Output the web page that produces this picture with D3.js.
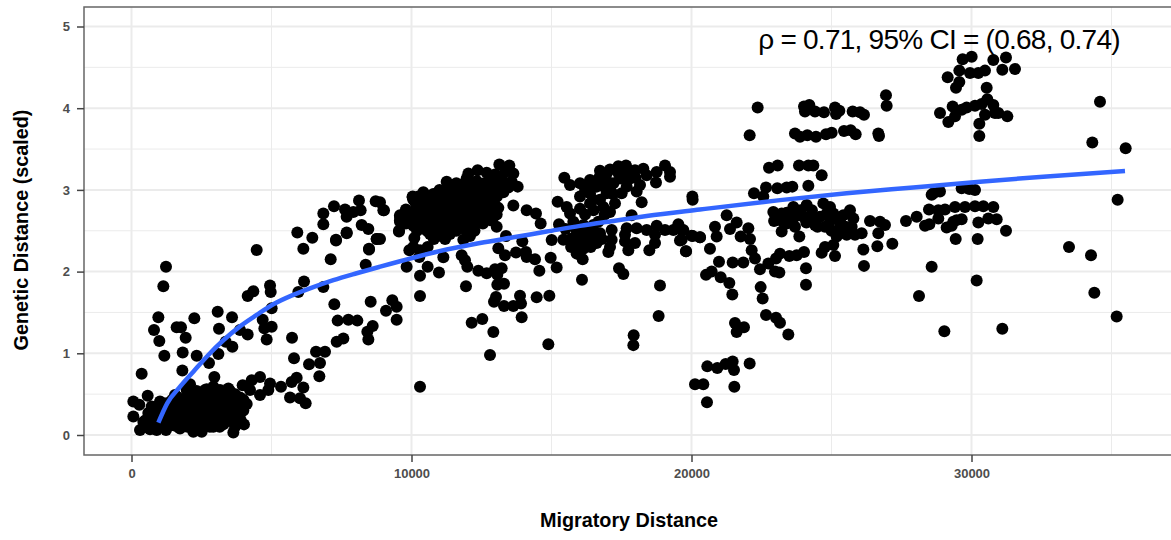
<!DOCTYPE html>
<html>
<head>
<meta charset="utf-8">
<script src="https://cdn.jsdelivr.net/npm/d3@7/dist/d3.min.js"></script>
<style>
html,body{margin:0;padding:0;background:#fff;overflow:hidden}
svg{display:block;font-family:"Liberation Sans",Arial,sans-serif}
</style>
</head>
<body>
<script>
const xTicks=[0,10000,20000,30000];
const xMinor=[5000,15000,25000,35000];
const yTicks=[0,1,2,3,4,5];
const yMinor=[0.5,1.5,2.5,3.5,4.5];
const xLabel="Migratory Distance";
const yLabel="Genetic Distance (scaled)";
const annotation="\u03c1 = 0.71, 95% CI = (0.68, 0.74)";

const fitLine=[[959,.15],[1280,.39],[1733,.59],[2209,.775],[2744,.98],[3280,1.16],[3875,1.33],[4471,1.47],[5066,1.60],[5780,1.715],[6494,1.81],[7209,1.895],[8042,1.98],[8875,2.06],[10065,2.17],[11256,2.27],[12447,2.35],[13637,2.42],[14828,2.49],[16018,2.56],[17209,2.62],[18400,2.68],[20300,2.76],[23160,2.875],[25540,2.96],[27920,3.03],[30300,3.10],[32685,3.165],[35482,3.23]];

const farCluster=[[30006,4.63],[29684,4.60],[30780,4.59],[31232,4.62],[31101,4.47],[31553,4.48],[29149,4.38],[29565,4.46],[29946,4.43],[30244,4.43],[30482,4.46],[29446,4.25],[29565,4.32],[30542,4.25],[30565,4.11],[29327,4.02],[29649,3.98],[29827,4.01],[30125,4.03],[30363,4.05],[30780,4.04],[30839,3.94],[30482,3.92],[28875,3.94],[29173,3.83],[29411,3.90],[30280,3.81],[31280,3.90],[30280,3.66],[30958,3.94],[34589,4.08],[34315,3.58],[35506,3.51],[35220,2.88],[33482,2.30],[34268,2.20],[34387,1.74],[35185,1.45],[31101,1.30],[29030,1.27],[28125,1.70],[30185,1.89],[28577,2.06],[31232,2.50],[30220,2.40],[29435,2.40],[30900,2.64],[30600,2.65],[30244,2.60],[30780,2.79],[30422,2.80],[30125,2.80],[29768,2.79],[29411,2.79],[29054,2.76],[28815,2.75],[28482,2.76],[28815,2.65],[28042,2.67],[27660,2.62],[28339,2.56],[28494,2.58],[29113,2.54],[29292,2.56],[29470,2.63],[29649,2.64],[29351,2.61],[28875,2.98],[28637,2.96],[28577,2.94],[29649,3.02],[30125,3.00],[29922,3.01]];

const midRight=[[26946,4.16],[26970,4.03],[26672,3.69],[26696,3.66],[24018,4.02],[24208,4.04],[24053,3.96],[24411,3.96],[24732,3.95],[25125,4.01],[25280,3.97],[25160,3.93],[25756,3.96],[26018,3.95],[26160,3.92],[22363,4.01],[22077,3.67],[23696,3.69],[23875,3.65],[24137,3.67],[24446,3.65],[24803,3.68],[25006,3.70],[25446,3.72],[25684,3.73],[25863,3.68],[22768,3.27],[23077,3.30],[23839,3.30],[24173,3.30],[24351,3.30],[24649,3.18],[24173,3.05],[22661,3.03],[23065,3.02],[23399,3.03],[23601,3.04],[22232,2.96],[22565,2.92],[20030,2.92],[20041,2.88],[22922,2.73],[23220,2.71],[23637,2.79],[24113,2.815],[24708,2.835],[24946,2.79],[25660,2.75],[25422,2.69],[25780,2.65],[23160,2.63],[23399,2.59],[23696,2.55],[23994,2.67],[24292,2.65],[24589,2.67],[24827,2.71],[25065,2.71],[24411,2.57],[24768,2.55],[23815,2.69],[23577,2.67],[23220,2.49],[23851,2.43],[25303,2.47],[25184,2.43],[25542,2.45],[25720,2.55],[26077,2.47],[25839,2.45],[26375,2.62],[26732,2.61],[26910,2.57],[26672,2.47],[26637,2.31],[27172,2.34],[26137,2.27],[24768,2.30],[24649,2.23],[25065,2.325],[25125,2.19],[26160,2.07],[24089,2.04],[24089,1.84],[24018,2.24],[23756,2.20],[23494,2.19],[23160,2.22],[23018,2.16],[22744,2.10],[22446,2.03],[22982,2.00],[23137,1.99],[22268,2.16],[22149,2.26],[22089,2.40],[21756,2.43],[22030,2.53],[21613,2.60],[21375,2.52],[21256,2.69],[20839,2.55],[20899,2.43],[20660,2.28],[20303,2.42],[20006,2.44],[19649,2.51],[19649,2.39],[19803,2.25],[20982,2.12],[21470,2.11],[21851,2.11],[20518,1.96],[20720,2.00],[21042,1.93],[21351,1.86],[21458,1.72],[22470,1.81],[22541,1.67],[22661,1.47],[23018,1.435],[23160,1.375],[23458,1.23],[21553,1.37],[21875,1.32],[21613,1.26],[20565,.84],[20922,.82],[21220,.87],[21470,.90],[21518,.795],[22077,.875],[20125,.62],[20422,.62],[21530,.59],[20553,.40]];

const midRightFill=[[22950,2.62],[23400,2.72],[23900,2.75],[24300,2.75],[24500,2.55],[24100,2.6],[23600,2.62],[24950,2.62],[25300,2.62],[25000,2.5],[25500,2.55],[25300,2.55]];

const centreScatter=[[18875,1.83],[18827,1.456],[17935,1.22],[17923,1.10],[14887,1.11],[12804,.98],[10304,.59],[12923,1.26],[12149,1.375],[12530,1.42],[13935,1.44],[13304,1.58],[13637,1.58],[13911,1.61],[13875,1.705],[12946,1.63],[13018,1.69],[14470,1.685],[14923,1.705],[10304,1.70],[11946,1.82],[16089,1.90],[9315,1.65],[9470,1.57],[9089,1.52],[9470,1.41],[10304,1.95],[10577,2.06],[10982,1.99],[9827,2.06],[13065,1.84],[13304,1.85],[13065,1.96],[13220,2.04],[12982,2.03],[12685,1.98],[12387,2.01],[11994,2.06],[11911,2.14],[11792,2.20],[11137,2.175],[10280,2.18],[9923,2.26],[10101,2.41],[9554,2.50],[10065,2.30],[10577,2.30],[10304,2.26],[11851,2.39],[12089,2.435],[13101,2.285],[13375,2.435],[13339,2.20],[13732,2.235],[14089,2.24],[14113,2.18],[14411,2.15],[14566,2.01],[14970,2.17],[15185,2.05],[13958,2.37],[15006,2.386],[14613,2.59],[14446,2.71],[14113,2.75],[13637,2.81],[15268,2.58],[15220,2.855],[9018,2.75],[8875,2.40],[8875,2.85],[17411,2.04],[17566,1.97],[16113,2.15],[15899,2.22]];

const band15to20k=[[15423,2.39],[15720,2.405],[16018,2.45],[15958,2.35],[16315,2.39],[16613,2.35],[16732,2.47],[16137,2.28],[16494,2.57],[17030,2.24],[17090,2.30],[17149,2.39],[17149,2.51],[17744,2.26],[17982,2.35],[17625,2.37],[17685,2.53],[18042,2.53],[17863,2.69],[17625,2.45],[18399,2.51],[18756,2.56],[18697,2.45],[18494,2.26],[18697,2.35],[19054,2.51],[19351,2.51],[19530,2.58],[19708,2.51],[19589,2.38],[19804,2.25],[20042,2.435],[20304,2.42],[15458,3.15],[15661,3.06],[16018,3.08],[16375,3.12],[16732,3.235],[17089,3.25],[17387,3.29],[17661,3.30],[17982,3.24],[18280,3.26],[18756,3.22],[19054,3.30],[19232,3.22],[19232,3.16],[18732,3.09],[18220,2.85],[18161,3.06],[18042,2.98],[17506,2.96],[17685,3.04],[17208,3.08],[17447,3.14],[17804,3.14],[16970,3.20],[16018,2.92],[16375,2.96],[16613,3.04],[16732,2.88],[16494,2.88],[16970,2.96],[17268,2.835],[17089,2.73],[16851,2.79],[16018,2.77],[15542,2.79],[15661,2.71],[15780,2.61],[16137,2.57],[16672,2.61],[16375,2.835]];

const bandFill=[[15500,2.52],[15900,2.5],[16300,2.5],[16100,2.4],[16500,2.45],[15700,2.3],[16400,2.3],[16800,2.4],[16300,3.05],[16700,3.15],[16200,3.0],[16800,3.05],[17000,3.1],[17400,3.2],[17700,3.2],[18000,3.15],[18400,3.18],[17100,3.0],[16500,2.75],[16900,2.7],[16200,2.7],[17200,2.95]];

const dense10to14k=[[12030,3.20],[12363,3.24],[12685,3.21],[12982,3.19],[11256,3.10],[11970,3.14],[12327,3.11],[12804,3.13],[13220,3.12],[13577,3.10],[11375,3.04],[11732,3.06],[12089,3.03],[12447,3.05],[12804,3.02],[13161,3.05],[13458,3.03],[13792,3.04],[10423,2.97],[10780,2.95],[11137,2.98],[11494,2.96],[11851,2.97],[12208,2.95],[12566,2.98],[12923,2.96],[13280,2.97],[10065,2.88],[10423,2.89],[10780,2.87],[11137,2.90],[11494,2.87],[11851,2.89],[12208,2.86],[12566,2.89],[12923,2.87],[10304,2.80],[10661,2.78],[11018,2.81],[11375,2.79],[11732,2.80],[12089,2.78],[12447,2.80],[12804,2.79],[13101,2.78],[9946,2.72],[10304,2.71],[10661,2.73],[11018,2.70],[11375,2.72],[11732,2.70],[12089,2.72],[12447,2.70],[12804,2.72],[13042,2.70],[9589,2.63],[9946,2.64],[10304,2.62],[10661,2.64],[11018,2.62],[11375,2.64],[11732,2.62],[12089,2.64],[12447,2.62],[12804,2.63],[10065,2.56],[10423,2.54],[10780,2.56],[11137,2.54],[11494,2.56],[11851,2.54],[13042,2.55],[10661,2.46],[11018,2.44],[11375,2.46],[13137,3.31],[13494,3.30],[13339,3.22],[13637,3.20],[13042,3.16],[10042,2.92],[9589,2.69],[9589,2.61]];

const denseFill=[[11600,3.08],[11900,3.08],[12200,3.08],[12600,3.08],[13000,3.08],[13400,3.08],[11000,3.0],[11300,3.0],[11550,3.0],[11900,3.0],[12250,3.0],[12600,3.0],[12950,3.0],[13300,3.0],[10250,2.92],[10600,2.92],[10950,2.92],[11300,2.92],[11650,2.92],[12000,2.92],[12350,2.92],[12700,2.92],[13050,2.92],[10150,2.84],[10500,2.84],[10850,2.84],[11200,2.84],[11550,2.84],[11900,2.84],[12250,2.84],[12600,2.84],[12950,2.84],[9800,2.76],[10150,2.76],[10500,2.76],[10850,2.76],[11200,2.76],[11550,2.76],[11900,2.76],[12250,2.76],[12600,2.76],[12950,2.76],[9750,2.68],[10100,2.68],[10450,2.68],[10800,2.68],[11150,2.68],[11500,2.68],[11850,2.68],[12200,2.68],[12600,2.68],[12950,2.68],[9800,2.59],[10150,2.59],[10500,2.59],[10850,2.59],[11200,2.59],[11550,2.59],[11900,2.59],[12250,2.59],[12550,2.59],[10200,2.50],[10550,2.50],[10900,2.50],[11250,2.50],[11600,2.50],[11950,2.50],[12250,2.50],[10800,2.40],[11200,2.40]];

const rising5to10k=[[5922,2.48],[6458,2.415],[6137,2.28],[7303,2.39],[7684,2.48],[6851,2.58],[6851,2.71],[7232,2.80],[7625,2.76],[7684,2.67],[7922,2.73],[8125,2.87],[8184,2.75],[8220,2.57],[8458,2.52],[8756,2.40],[8482,2.28],[8720,2.86],[8994,2.75],[9553,2.49],[9589,2.67],[10041,2.91]];

const leftScatter=[[1232,2.06],[1137,1.82],[959,1.44],[804,1.285],[994,1.15],[1173,.97],[363,.75],[1613,1.32],[1768,1.32],[1935,1.19],[2244,1.43],[1828,1.01],[2328,.97],[1816,.79],[3078,1.51],[3590,1.44],[3125,1.30],[3363,1.14],[3602,1.08],[3102,.99],[2768,.88],[2959,.71],[2090,.62],[3875,1.285],[4149,1.23],[4149,1.70],[4351,1.76],[4471,2.265],[4947,1.83],[4971,1.75],[5006,1.55],[4685,1.41],[4744,1.305],[5006,1.325],[4828,1.17],[5733,1.19],[5804,.94],[5899,.70],[5720,.65],[6137,.58],[5661,.46],[6018,.45],[6220,.39],[6340,.865],[6590,1.02],[6911,1.02],[6732,.88],[6709,.72],[5959,1.75],[6161,1.88],[6851,1.81],[7244,1.60],[7363,1.40],[7745,1.41],[8066,1.40],[7328,1.14],[7566,1.18],[8542,1.63],[8614,1.335],[8423,1.265],[8459,1.17],[7114,2.15],[8364,2.085],[8483,2.27],[7304,2.38],[8756,2.40],[7685,2.47]];

const lowCluster=[[5339,.59],[4947,.63],[4590,.71],[4292,.67],[3970,.61],[4590,.49],[4887,.55],[4233,.55],[3459,.57],[2923,.59],[2625,.55],[66,.41],[280,.37],[578,.48],[66,.225],[304,.06],[661,.07],[899,.06],[1232,.06],[1018,.41],[720,.35],[423,.16],[1554,.49],[2209,.04],[2506,.04],[3637,.03],[4018,.13],[3697,.10],[2923,.10],[1733,.08],[1495,.12],[1971,.55],[2328,.54],[2685,.56],[3161,.55],[3518,.54],[1613,.47],[1971,.48],[2328,.46],[2923,.47],[3161,.46],[3518,.48],[3875,.46],[1256,.39],[1613,.38],[2090,.40],[2447,.38],[3042,.39],[3399,.38],[3756,.40],[4114,.38],[899,.31],[1375,.30],[1733,.32],[2209,.30],[2685,.31],[3042,.30],[3399,.32],[3994,.30],[780,.22],[1256,.23],[1613,.21],[2090,.23],[2566,.21],[2923,.23],[3280,.21],[3756,.23],[661,.14],[1018,.15],[1375,.13],[1852,.15],[2209,.13],[2566,.15],[3280,.13]];

const lowFill=[[2100,.5],[2500,.5],[3000,.5],[3300,.5],[3700,.5],[1450,.43],[1800,.43],[2150,.43],[2600,.43],[2800,.43],[3300,.43],[3700,.43],[4000,.43],[1100,.35],[1500,.35],[1900,.35],[2300,.35],[2500,.35],[2850,.35],[3200,.35],[3600,.35],[3950,.35],[600,.27],[1050,.27],[1500,.27],[1950,.27],[2400,.27],[2800,.27],[3150,.27],[3600,.27],[3900,.27],[500,.18],[950,.18],[1400,.18],[1800,.18],[2350,.18],[2750,.18],[3100,.18],[3500,.18],[3900,.18],[550,.1],[850,.1],[1150,.1],[1650,.1],[2000,.1],[2400,.1],[2800,.1],[3150,.1]];

const points=[...farCluster,...midRight,...midRightFill,...centreScatter,...band15to20k,...bandFill,...dense10to14k,...denseFill,...rising5to10k,...leftScatter,...lowCluster,...lowFill];

const W=1171,H=540;
const panel={left:84,right:1176,top:7,bottom:455};
const x=d3.scaleLinear().domain([0,30000]).range([131.5,971.5]);
const y=d3.scaleLinear().domain([0,5]).range([435,26.5]);

const svg=d3.select("body").append("svg").attr("width",W).attr("height",H);
svg.append("defs").append("clipPath").attr("id","panelClip").append("rect")
  .attr("x",panel.left).attr("y",panel.top)
  .attr("width",panel.right-panel.left).attr("height",panel.bottom-panel.top);

const grid=svg.append("g");
const grey="#ebebeb";
grid.selectAll(".xm").data(xMinor).join("line").attr("x1",d=>x(d)).attr("x2",d=>x(d))
  .attr("y1",panel.top).attr("y2",panel.bottom).attr("stroke",grey).attr("stroke-width",1);
grid.selectAll(".ym").data(yMinor).join("line").attr("y1",d=>y(d)).attr("y2",d=>y(d))
  .attr("x1",panel.left).attr("x2",panel.right).attr("stroke",grey).attr("stroke-width",1);
grid.selectAll(".xj").data(xTicks).join("line").attr("x1",d=>x(d)).attr("x2",d=>x(d))
  .attr("y1",panel.top).attr("y2",panel.bottom).attr("stroke",grey).attr("stroke-width",2);
grid.selectAll(".yj").data(yTicks).join("line").attr("y1",d=>y(d)).attr("y2",d=>y(d))
  .attr("x1",panel.left).attr("x2",panel.right).attr("stroke",grey).attr("stroke-width",2);

const plot=svg.append("g").attr("clip-path","url(#panelClip)");
plot.selectAll("circle").data(points).join("circle")
  .attr("cx",d=>x(d[0])).attr("cy",d=>y(d[1])).attr("r",6).attr("fill","#000");
plot.append("path").datum(fitLine)
  .attr("d",d3.line().x(d=>x(d[0])).y(d=>y(d[1])).curve(d3.curveMonotoneX))
  .attr("fill","none").attr("stroke","#3366FF").attr("stroke-width",4.5);

svg.append("text").attr("x",939).attr("y",49).attr("text-anchor","middle")
  .attr("font-size",28).attr("letter-spacing","-0.75px").attr("fill","#000").text(annotation);

svg.append("rect").attr("x",panel.left).attr("y",panel.top)
  .attr("width",panel.right-panel.left).attr("height",panel.bottom-panel.top)
  .attr("fill","none").attr("stroke","#666").attr("stroke-width",1.5);

const xAxis=svg.append("g").attr("transform",`translate(0,${panel.bottom})`)
  .call(d3.axisBottom(x).tickValues(xTicks).tickFormat(d3.format("d")).tickSize(7).tickPadding(7));
const yAxis=svg.append("g").attr("transform",`translate(${panel.left},0)`)
  .call(d3.axisLeft(y).tickValues(yTicks).tickFormat(d3.format("d")).tickSize(7).tickPadding(7));
[xAxis,yAxis].forEach(a=>{
  a.select(".domain").remove();
  a.selectAll(".tick line").attr("stroke","#444").attr("stroke-width",1.5);
  a.selectAll(".tick text").attr("fill","#4d4d4d").attr("font-size",13).attr("font-weight","bold")
   .attr("font-family",'"Liberation Sans",Arial,sans-serif');
});

svg.append("text").attr("x",629).attr("y",527).attr("text-anchor","middle")
  .attr("font-size",19.8).attr("font-weight","bold").attr("fill","#000").text(xLabel);
svg.append("text").attr("transform","translate(28,230) rotate(-90)").attr("text-anchor","middle")
  .attr("font-size",19.8).attr("font-weight","bold").attr("fill","#000").text(yLabel);
</script>
</body>
</html>
